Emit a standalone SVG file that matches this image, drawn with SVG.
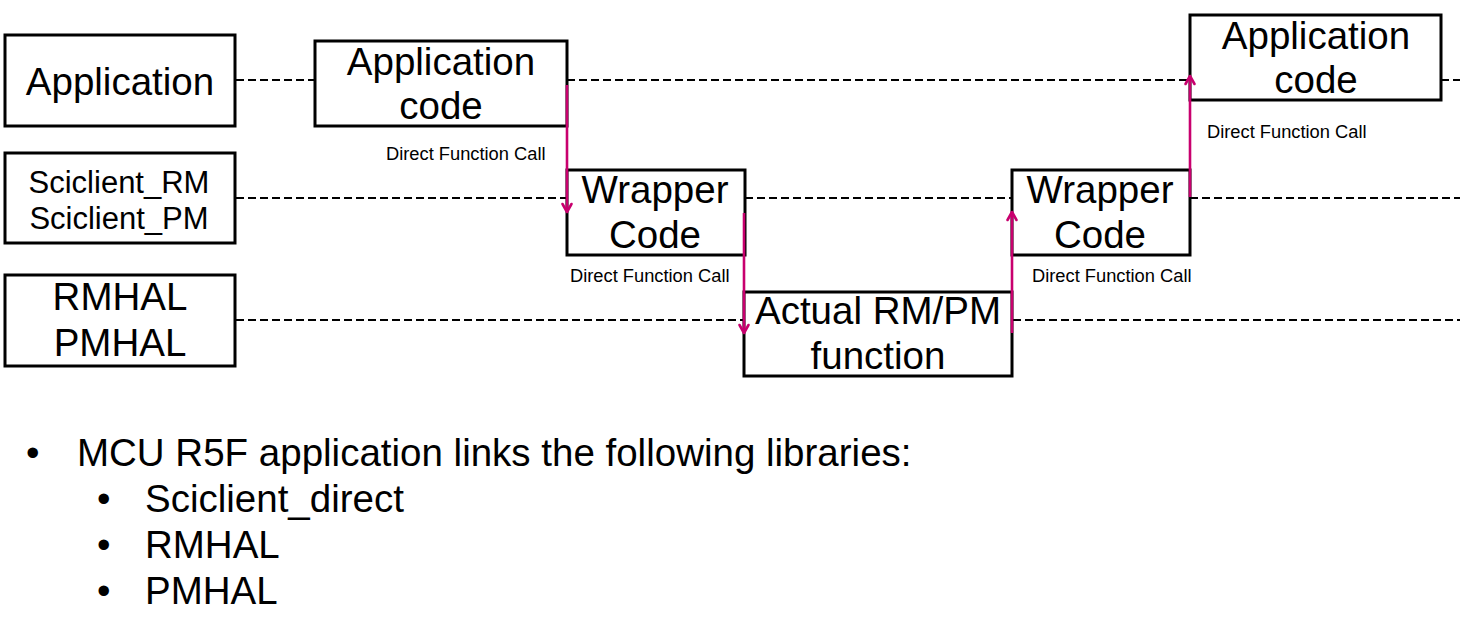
<svg xmlns="http://www.w3.org/2000/svg" width="1460" height="639" viewBox="0 0 1460 639">
<style>
.box{fill:#fff;stroke:#000;stroke-width:3}
.t{font-family:"Liberation Sans",Arial,sans-serif;fill:#000}
.big{font-size:38.5px;text-anchor:middle}
.mid{font-size:31px;text-anchor:middle}
.lbl{font-size:18.3px}
.dash{stroke:#000;stroke-width:1.8;stroke-dasharray:8 4;fill:none}
.call{stroke:#C8006E;stroke-width:2.6;fill:none;marker-end:url(#ah)}
.bl{font-size:38.5px}
</style>
<defs>
<marker id="ah" markerUnits="userSpaceOnUse" markerWidth="12" markerHeight="12" viewBox="0 0 12 12" refX="10" refY="6" orient="auto" overflow="visible">
<path d="M2,1.5 L10,6 L2,10.5" fill="none" stroke="#C8006E" stroke-width="2.6" stroke-linecap="round" stroke-linejoin="round"/>
</marker>
</defs>
<rect width="1460" height="639" fill="#fff"/>
<g id="lanes">
<line class="dash" x1="236" y1="80" x2="315" y2="80"/>
<line class="dash" x1="567" y1="80" x2="1190" y2="80"/>
<line class="dash" x1="1441" y1="80" x2="1460" y2="80"/>
<line class="dash" x1="236" y1="198" x2="567" y2="198"/>
<line class="dash" x1="745" y1="198" x2="1012" y2="198"/>
<line class="dash" x1="1190" y1="198" x2="1460" y2="198"/>
<line class="dash" x1="236" y1="320" x2="744" y2="320"/>
<line class="dash" x1="1013" y1="320" x2="1460" y2="320"/>
</g>
<g id="lane-application">
<rect class="box" x="5" y="35" width="230" height="91"/>
<text class="t big" x="120" y="95">Application</text>
</g>
<g id="lane-sciclient">
<rect class="box" x="5" y="153" width="230" height="90"/>
<text class="t mid" x="119" y="193">Sciclient_RM</text>
<text class="t mid" x="119" y="229">Sciclient_PM</text>
</g>
<g id="lane-hal">
<rect class="box" x="5" y="275" width="230" height="91"/>
<text class="t big" x="120" y="310">RMHAL</text>
<text class="t big" x="120" y="356">PMHAL</text>
</g>
<g id="app-code-1">
<rect class="box" x="315" y="41" width="252" height="85"/>
<text class="t big" x="441" y="75">Application</text>
<text class="t big" x="441" y="119">code</text>
</g>
<g id="wrapper-1">
<rect class="box" x="567" y="170" width="178" height="85"/>
<text class="t big" x="655" y="203">Wrapper</text>
<text class="t big" x="655" y="248">Code</text>
</g>
<g id="actual-rmpm">
<rect class="box" x="744" y="292" width="268" height="84"/>
<text class="t big" x="878" y="324">Actual RM/PM</text>
<text class="t big" x="878" y="369">function</text>
</g>
<g id="wrapper-2">
<rect class="box" x="1012" y="170" width="178" height="85"/>
<text class="t big" x="1100" y="203">Wrapper</text>
<text class="t big" x="1100" y="248">Code</text>
</g>
<g id="app-code-2">
<rect class="box" x="1190" y="15" width="251" height="85"/>
<text class="t big" x="1316" y="49">Application</text>
<text class="t big" x="1316" y="93">code</text>
</g>
<g id="connectors">
<line class="call" x1="567" y1="85" x2="567" y2="212"/>
<line class="call" x1="744" y1="213" x2="744" y2="333"/>
<line class="call" x1="1012" y1="333" x2="1012" y2="212"/>
<line class="call" x1="1190" y1="197" x2="1190" y2="76"/>
<text class="t lbl" x="386" y="160">Direct Function Call</text>
<text class="t lbl" x="570" y="282">Direct Function Call</text>
<text class="t lbl" x="1032" y="282">Direct Function Call</text>
<text class="t lbl" x="1207" y="138">Direct Function Call</text>
</g>
<g id="notes">
<text class="t bl" x="26" y="466">•</text>
<text class="t bl" x="77" y="466">MCU R5F application links the following libraries:</text>
<text class="t bl" x="97" y="512">•</text>
<text class="t bl" x="145" y="512">Sciclient_direct</text>
<text class="t bl" x="97" y="558">•</text>
<text class="t bl" x="145" y="558">RMHAL</text>
<text class="t bl" x="97" y="604">•</text>
<text class="t bl" x="145" y="604">PMHAL</text>
</g>
</svg>
